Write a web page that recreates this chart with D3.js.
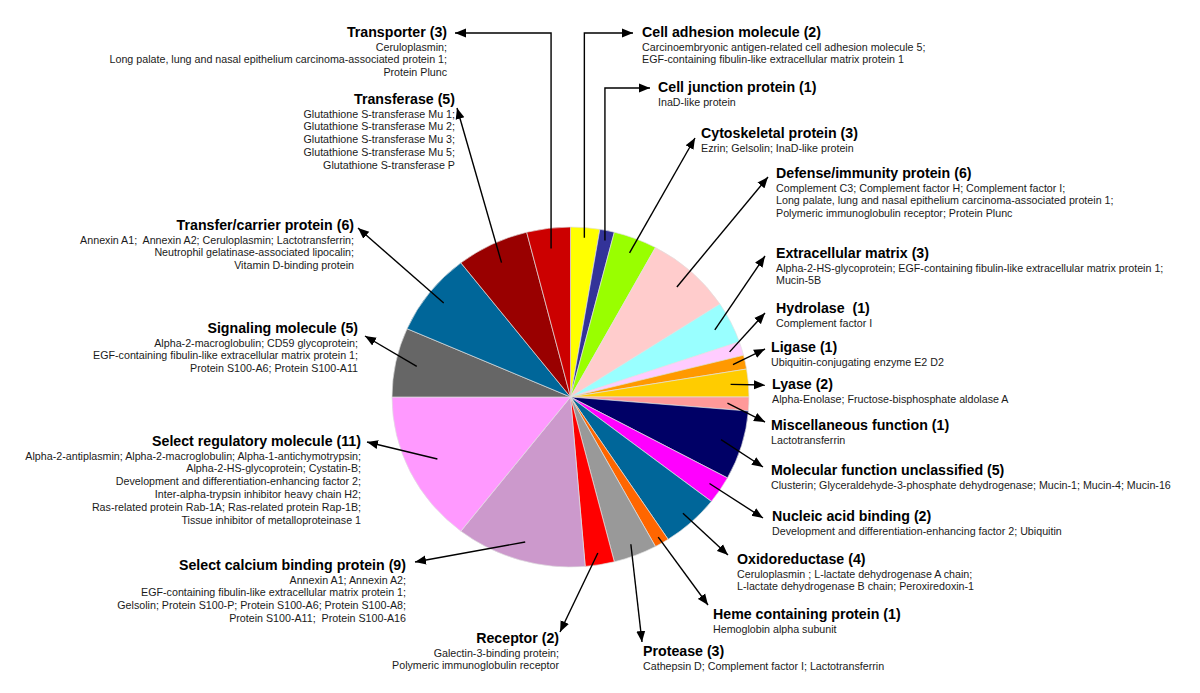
<!DOCTYPE html>
<html>
<head>
<meta charset="utf-8">
<script src="https://cdn.jsdelivr.net/npm/d3@7"></script>
<style>
  body { margin: 0; background: #fff; }
  svg { display: block; }
  .ttl { font-family: "Liberation Sans", Arial, sans-serif; font-weight: bold; font-size: 14.2px; fill: #000; white-space: pre; }
  .sub { font-family: "Liberation Sans", Arial, sans-serif; font-size: 10.7px; fill: #1a1a1a; white-space: pre; }
</style>
</head>
<body>
<script>
// protein classes, clockwise from 12 o'clock
var categories = [
  "Cell adhesion molecule", "Cell junction protein", "Cytoskeletal protein",
  "Defense/immunity protein", "Extracellular matrix", "Hydrolase ", "Ligase",
  "Lyase", "Miscellaneous function", "Molecular function unclassified",
  "Nucleic acid binding", "Oxidoreductase", "Heme containing protein",
  "Protease", "Receptor", "Select calcium binding protein",
  "Select regulatory molecule", "Signaling molecule", "Transfer/carrier protein",
  "Transferase", "Transporter"
];
var counts = [2, 1, 3, 6, 3, 1, 1, 2, 1, 5, 2, 4, 1, 3, 2, 9, 11, 5, 6, 5, 3];

var proteins = [
  ["Carcinoembryonic antigen-related cell adhesion molecule 5;", "EGF-containing fibulin-like extracellular matrix protein 1"],
  ["InaD-like protein"],
  ["Ezrin; Gelsolin; InaD-like protein"],
  ["Complement C3; Complement factor H; Complement factor I;", "Long palate, lung and nasal epithelium carcinoma-associated protein 1;", "Polymeric immunoglobulin receptor; Protein Plunc"],
  ["Alpha-2-HS-glycoprotein; EGF-containing fibulin-like extracellular matrix protein 1;", "Mucin-5B"],
  ["Complement factor I"],
  ["Ubiquitin-conjugating enzyme E2 D2"],
  ["Alpha-Enolase; Fructose-bisphosphate aldolase A"],
  ["Lactotransferrin"],
  ["Clusterin; Glyceraldehyde-3-phosphate dehydrogenase; Mucin-1; Mucin-4; Mucin-16"],
  ["Development and differentiation-enhancing factor 2; Ubiquitin"],
  ["Ceruloplasmin ; L-lactate dehydrogenase A chain;", "L-lactate dehydrogenase B chain; Peroxiredoxin-1"],
  ["Hemoglobin alpha subunit"],
  ["Cathepsin D; Complement factor I; Lactotransferrin"],
  ["Galectin-3-binding protein;", "Polymeric immunoglobulin receptor"],
  ["Annexin A1; Annexin A2;", "EGF-containing fibulin-like extracellular matrix protein 1;", "Gelsolin; Protein S100-P; Protein S100-A6; Protein S100-A8;", "Protein S100-A11;  Protein S100-A16"],
  ["Alpha-2-antiplasmin; Alpha-2-macroglobulin; Alpha-1-antichymotrypsin;", "Alpha-2-HS-glycoprotein; Cystatin-B;", "Development and differentiation-enhancing factor 2;", "Inter-alpha-trypsin inhibitor heavy chain H2;", "Ras-related protein Rab-1A; Ras-related protein Rap-1B;", "Tissue inhibitor of metalloproteinase 1"],
  ["Alpha-2-macroglobulin; CD59 glycoprotein;", "EGF-containing fibulin-like extracellular matrix protein 1;", "Protein S100-A6; Protein S100-A11"],
  ["Annexin A1;  Annexin A2; Ceruloplasmin; Lactotransferrin;", "Neutrophil gelatinase-associated lipocalin;", "Vitamin D-binding protein"],
  ["Glutathione S-transferase Mu 1;", "Glutathione S-transferase Mu 2;", "Glutathione S-transferase Mu 3;", "Glutathione S-transferase Mu 5;", "Glutathione S-transferase P"],
  ["Ceruloplasmin;", "Long palate, lung and nasal epithelium carcinoma-associated protein 1;", "Protein Plunc"]
];

var sliceColors = [
  "#ffff00", "#333399", "#99ff00", "#ffcccc", "#99ffff", "#ffccff", "#ff9900",
  "#ffcc00", "#ff9999", "#000066", "#ff00ff", "#006699", "#ff6600",
  "#999999", "#ff0000", "#cc99cc", "#ff99ff", "#666666", "#006699",
  "#990000", "#cc0000"
];

// label placement: text anchor, x, title baseline, arrow tip, depth of arrow start, elbow
var labelLayout = [
  {a: "start", x: 642, y: 37,  tip: [633, 33],  k: 0.94, elbow: true},
  {a: "start", x: 658, y: 92,  tip: [650, 88],  k: 0.94, elbow: true},
  {a: "start", x: 701, y: 138, tip: [695, 138], k: 0.91},
  {a: "start", x: 776, y: 178, tip: [768, 177], k: 0.88},
  {a: "start", x: 776, y: 258, tip: [765, 256], k: 0.9},
  {a: "start", x: 776, y: 313, tip: [765, 313], k: 0.93},
  {a: "start", x: 771, y: 352, tip: [765, 349], k: 0.93},
  {a: "start", x: 772, y: 389, tip: [765, 385], k: 0.9},
  {a: "start", x: 771, y: 430, tip: [765, 422], k: 0.88},
  {a: "start", x: 771, y: 475, tip: [763, 467], k: 0.88},
  {a: "start", x: 772, y: 521, tip: [763, 518], k: 0.93},
  {a: "start", x: 737, y: 564, tip: [728, 555], k: 0.93},
  {a: "start", x: 713, y: 619, tip: [708, 605], k: 0.96},
  {a: "start", x: 643, y: 656, tip: [642, 642], k: 0.93},
  {a: "end",   x: 559, y: 643, tip: [560, 632], k: 0.93},
  {a: "end",   x: 406, y: 570, tip: [415, 562], k: 0.89},
  {a: "end",   x: 361, y: 446, tip: [367, 442], k: 0.83},
  {a: "end",   x: 358, y: 333, tip: [365, 336], k: 0.88},
  {a: "end",   x: 354, y: 230, tip: [358, 228], k: 0.9},
  {a: "end",   x: 455, y: 104, tip: [457, 108], k: 0.88},
  {a: "end",   x: 447, y: 37,  tip: [455, 33],  k: 0.88, elbow: true}
];

var W = 1200, H = 693;
var cx = 570.5, cy = 397, rx = 178.5, ry = 170;

var svg = d3.select(document.body)
  .append("svg")
  .attr("width", W)
  .attr("height", H);

svg.append("defs").append("marker")
  .attr("id", "head")
  .attr("markerUnits", "userSpaceOnUse")
  .attr("viewBox", "0 -5 12 10")
  .attr("refX", 11)
  .attr("refY", 0)
  .attr("markerWidth", 12)
  .attr("markerHeight", 10)
  .attr("orient", "auto")
  .append("path")
  .attr("d", "M0,-4.5L11,0L0,4.5Z")
  .attr("fill", "#000");

var pie = d3.pie().sort(null).value(function (d) { return d; });
var arcs = pie(counts);
var arc = d3.arc().innerRadius(0).outerRadius(rx);

var g = svg.append("g")
  .attr("transform", "translate(" + cx + "," + cy + ") scale(1," + (ry / rx) + ")");

g.selectAll("path")
  .data(arcs)
  .enter()
  .append("path")
  .attr("d", arc)
  .attr("fill", function (d, i) { return sliceColors[i]; })
  .attr("stroke", "#e0e0e0")
  .attr("stroke-width", 0.7);

// arrows
var arrows = svg.append("g");
arcs.forEach(function (d, i) {
  var L = labelLayout[i];
  var m = (d.startAngle + d.endAngle) / 2;
  var sx = cx + rx * L.k * Math.sin(m);
  var sy = cy - ry * L.k * Math.cos(m);
  var p = d3.path();
  p.moveTo(sx, sy);
  if (L.elbow) {
    p.lineTo(sx, L.tip[1]);
  }
  p.lineTo(L.tip[0], L.tip[1]);
  arrows.append("path")
    .attr("d", p.toString())
    .attr("fill", "none")
    .attr("stroke", "#000")
    .attr("stroke-width", 1.4)
    .attr("marker-end", "url(#head)");
});

// labels
var labels = svg.append("g");
categories.forEach(function (c, i) {
  var L = labelLayout[i];
  labels.append("text")
    .attr("class", "ttl")
    .attr("x", L.x)
    .attr("y", L.y)
    .attr("text-anchor", L.a)
    .text(c + " (" + counts[i] + ")");
  proteins[i].forEach(function (line, j) {
    labels.append("text")
      .attr("class", "sub")
      .attr("x", L.x)
      .attr("y", L.y + 13.5 + j * 12.9)
      .attr("text-anchor", L.a)
      .text(line);
  });
});
</script>
</body>
</html>
